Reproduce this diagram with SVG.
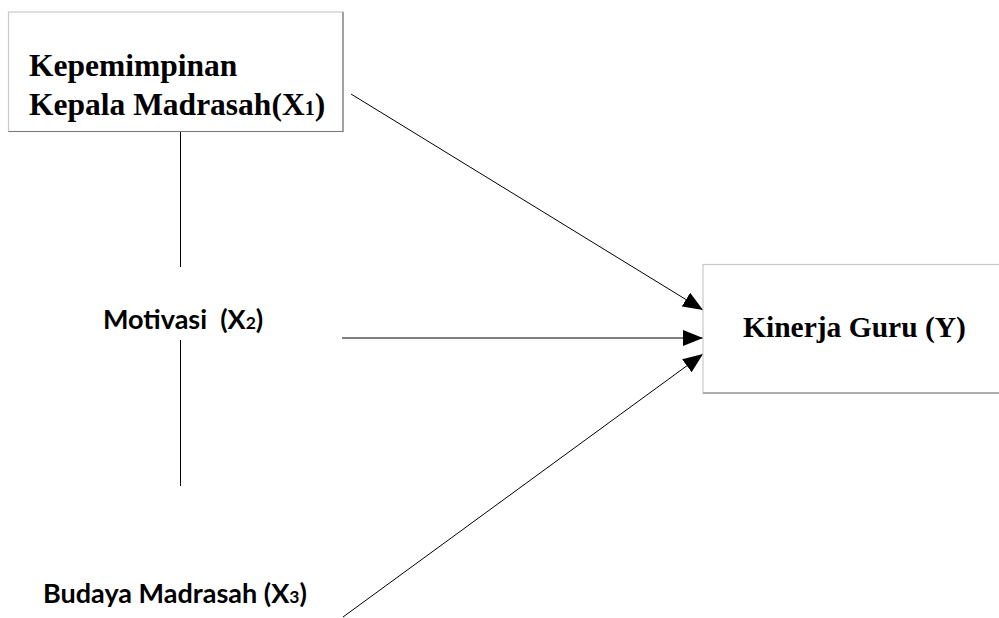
<svg xmlns="http://www.w3.org/2000/svg" width="999" height="618" viewBox="0 0 999 618">
<style>
.box{fill:#fff;stroke:#c8c8c8;stroke-width:1.2}
.shade{stroke:#7a7a7a;stroke-width:1.2;fill:none}
.serif{font-family:"Liberation Serif","Times New Roman",serif;font-weight:bold;fill:#000}
.sans{font-family:Lato,"Open Sans",sans-serif;font-weight:bold;fill:#000}
.edge{stroke:#000;stroke-width:1;fill:none}
</style>
<defs>
<marker id="ah" markerWidth="20" markerHeight="16" refX="20" refY="8" orient="auto" markerUnits="userSpaceOnUse">
<path d="M0,0 L20,8 L0,16 Z" fill="#000"/>
</marker>
</defs>
<g id="connectors">
<line class="edge" x1="180.5" y1="131" x2="180.5" y2="267"/>
<line class="edge" x1="180.5" y1="340" x2="180.5" y2="486"/>
<line class="edge" x1="351" y1="94" x2="703" y2="310" marker-end="url(#ah)"/>
<line class="edge" x1="342" y1="338" x2="703" y2="338" marker-end="url(#ah)"/>
<line class="edge" x1="343" y1="617" x2="703" y2="354" marker-end="url(#ah)"/>
</g>
<g id="node-x1">
<rect class="box" x="8.5" y="12" width="334.5" height="119.5"/>
<polyline class="shade" points="343,12 343,131.5 8.5,131.5"/>
<text class="serif" font-size="31.5" x="29" y="76">Kepemimpinan</text>
<text class="serif" font-size="31.5" x="29" y="115">Kepala Madrasah(X<tspan font-size="20">1</tspan>)</text>
</g>
<g id="node-x2">
<text class="sans" font-size="27" x="103" y="329">Motivasi&#160; (X<tspan font-size="17.5">2</tspan>)</text>
</g>
<g id="node-x3">
<text class="sans" font-size="27" x="43" y="603">Budaya Madrasah (X<tspan font-size="17.5">3</tspan>)</text>
</g>
<g id="node-y">
<rect class="box" x="703" y="264.5" width="300" height="128.5"/>
<line class="shade" x1="703" y1="393" x2="999" y2="393"/>
<text class="serif" font-size="29.5" x="743" y="337">Kinerja Guru (Y)</text>
</g>
</svg>
